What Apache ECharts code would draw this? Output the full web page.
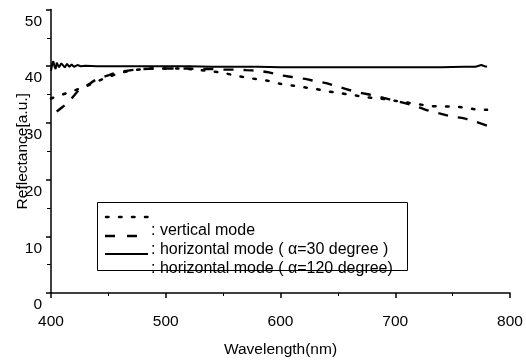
<!DOCTYPE html>
<html>
<head>
<meta charset="utf-8">
<script src="https://cdn.jsdelivr.net/npm/echarts@6/dist/echarts.min.js"></script>
<style>
  html, body { margin: 0; padding: 0; background: #fff; }
  #chart { width: 526px; height: 361px; }
</style>
</head>
<body>
<div id="chart"></div>
<script>
// wavelength (nm) and reflectance (a.u.)
var solidWl  = [400,401,402,403,404,405,406,407,408,409,410,412,414,416,418,420,423,426,430,440,460,480,500,520,540,560,580,600,620,640,660,680,700,720,740,760,770,775,778,780];
var solidVal = [39.2,40.3,40.9,40.0,39.5,40.6,40.8,39.8,39.6,40.5,40.6,39.8,40.4,39.9,40.3,39.9,40.2,40.0,40.1,40.0,40.0,40.0,40.0,40.0,39.9,39.9,39.9,39.8,39.8,39.8,39.8,39.8,39.8,39.8,39.8,39.9,39.9,40.2,40.0,39.9];

var vertWl  = [400,410,420,430,440,450,460,470,480,490,500,510,520,530,540,550,560,570,580,590,600,610,620,630,640,650,660,670,680,690,700,710,720,730,740,750,760,770,780];
var vertVal = [34.3,35.0,35.7,36.4,37.3,38.1,38.8,39.2,39.5,39.6,39.6,39.6,39.5,39.3,39.1,38.8,38.4,38.0,37.7,37.4,36.9,36.6,36.3,36.0,35.6,35.3,35.0,34.7,34.4,34.2,33.9,33.6,33.3,33.0,32.9,32.9,32.7,32.4,32.3];

var h30Wl  = [405,410,415,420,425,430,440,450,460,470,480,490,500,510,520,530,540,550,560,570,580,590,600,610,620,630,640,650,660,670,680,690,700,710,720,730,740,750,760,770,780];
var h30Val = [32.0,32.8,33.6,34.8,35.9,36.4,37.7,38.4,39.0,39.3,39.5,39.6,39.6,39.6,39.6,39.5,39.5,39.4,39.4,39.3,39.2,38.9,38.4,38.1,37.8,37.4,37.0,36.4,35.8,35.3,34.9,34.4,33.9,33.4,32.8,32.1,31.6,31.1,30.8,30.2,29.5];

var xTicks = { min: 400, max: 800, step: 100 };
var yTicks = { min: 0, max: 50, step: 10 };

var legendNames = [': vertical mode', ': horizontal mode ( \u03b1=30 degree )', ': horizontal mode ( \u03b1=120 degree)'];

function zip(a, b) {
  return a.map(function (v, i) { return [v, b[i]]; });
}

var font = '"Liberation Sans", Arial, sans-serif';
var chart = echarts.init(document.getElementById('chart'), null, { renderer: 'canvas' });

var option = {
  backgroundColor: '#fff',
  animation: false,
  grid: { left: 51, right: 16, top: 9.5, bottom: 68, outerBoundsMode: 'none', containLabel: false },
  xAxis: {
    type: 'value',
    min: xTicks.min, max: xTicks.max, interval: xTicks.step,
    name: 'Wavelength(nm)',
    nameLocation: 'middle',
    nameGap: 49,
    nameMoveOverlap: false,
    nameTextStyle: { fontFamily: font, fontSize: 15.5, color: '#000' },
    axisLine: { lineStyle: { color: '#000', width: 1.5 } },
    axisTick: { inside: false, length: 5, lineStyle: { color: '#000', width: 1.5 } },
    minorTick: { show: true, splitNumber: 2, length: 3, lineStyle: { color: '#000' } },
    splitLine: { show: false },
    axisLabel: { fontFamily: font, fontSize: 15.5, color: '#000', margin: 21 }
  },
  yAxis: {
    type: 'value',
    min: yTicks.min, max: yTicks.max, interval: yTicks.step,
    name: 'Reflectance[a.u.]',
    nameLocation: 'middle',
    nameGap: 20,
    nameMoveOverlap: false,
    nameTextStyle: { fontFamily: font, fontSize: 15.5, color: '#000' },
    axisLine: { show: true, lineStyle: { color: '#000', width: 1.5 } },
    axisTick: { show: true, length: 5, lineStyle: { color: '#000', width: 1.5 } },
    minorTick: { show: true, splitNumber: 2, length: 4, lineStyle: { color: '#000' } },
    splitLine: { show: false },
    axisLabel: { fontFamily: font, fontSize: 15.5, color: '#000', margin: 9, verticalAlign: 'top', padding: [4, 0, 0, 0] }
  },
  series: [
    {
      name: legendNames[0], type: 'line', data: zip(vertWl, vertVal),
      showSymbol: false, smooth: 0.3,
      lineStyle: { color: '#000', width: 2.5, type: [2.5, 10.5], cap: 'round' }
    },
    {
      name: legendNames[1], type: 'line', data: zip(h30Wl, h30Val),
      showSymbol: false, smooth: 0.3,
      lineStyle: { color: '#000', width: 2.4, type: [10, 10] }
    },
    {
      name: legendNames[2], type: 'line', data: zip(solidWl, solidVal),
      showSymbol: false,
      lineStyle: { color: '#000', width: 2 }
    }
  ],
  graphic: [
    { type: 'rect', left: 97, top: 202, shape: { width: 310, height: 68 },
      style: { fill: '#fff', stroke: '#000', lineWidth: 1 }, z: 10 },
    { type: 'line', shape: { x1: 106, y1: 217, x2: 148, y2: 217 },
      style: { stroke: '#000', lineWidth: 2.5, lineDash: [2.5, 10.5], lineCap: 'round' }, z: 11 },
    { type: 'line', shape: { x1: 105, y1: 236, x2: 148, y2: 236 },
      style: { stroke: '#000', lineWidth: 2.6, lineDash: [10, 12] }, z: 11 },
    { type: 'line', shape: { x1: 105, y1: 254, x2: 148, y2: 254 },
      style: { stroke: '#000', lineWidth: 2 }, z: 11 },
    { type: 'text', left: 151, top: 223, z: 11,
      style: { text: legendNames[0], font: '16px ' + font, fill: '#000' } },
    { type: 'text', left: 151, top: 242, z: 11,
      style: { text: legendNames[1], font: '16px ' + font, fill: '#000' } },
    { type: 'text', left: 151, top: 261, z: 11,
      style: { text: legendNames[2], font: '16px ' + font, fill: '#000' } }
  ]
};

chart.setOption(option);
</script>
</body>
</html>
